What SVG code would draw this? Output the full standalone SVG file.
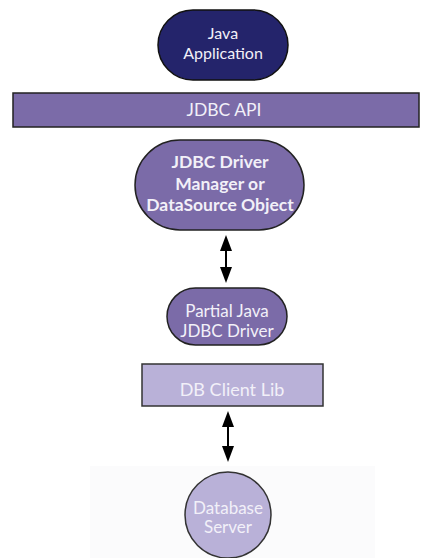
<svg xmlns="http://www.w3.org/2000/svg" width="426" height="558" viewBox="0 0 426 558">
<style>
.t{font-family:Lato,"Open Sans","Liberation Sans",sans-serif;fill:#f2f0f8;text-anchor:middle}
.shaft{stroke:#000;stroke-width:2;fill:none}
.head{fill:#000}
.dark{fill:#24246b;stroke:#111;stroke-width:1.5}
.mid{fill:#7b6ba8;stroke:#222;stroke-width:1.5}
.light{fill:#b9b1d8;stroke:#333;stroke-width:1.5}
</style>
<rect x="90" y="466" width="285" height="92" fill="#fbfbfc"/>
<g id="java-app">
<rect class="dark" x="158" y="10" width="130" height="70" rx="35"/>
<text class="t" x="223" y="39" font-size="16">Java</text>
<text class="t" x="223" y="59" font-size="16">Application</text>
</g>
<g id="jdbc-api">
<rect class="mid" x="13" y="93" width="406" height="34"/>
<text class="t" x="224" y="116" font-size="17.5">JDBC API</text>
</g>
<g id="driver-manager">
<rect class="mid" x="135" y="140" width="169" height="90" rx="45"/>
<text class="t" x="220" y="168" font-size="17.5" font-weight="bold">JDBC Driver</text>
<text class="t" x="220" y="190" font-size="17.5" font-weight="bold">Manager or</text>
<text class="t" x="220" y="211" font-size="17.5" font-weight="bold">DataSource Object</text>
</g>
<g id="partial-driver">
<rect class="mid" x="167" y="288" width="120" height="57" rx="28.5"/>
<text class="t" x="227" y="317" font-size="17">Partial Java</text>
<text class="t" x="227" y="337" font-size="17">JDBC Driver</text>
</g>
<g id="db-client-lib">
<rect class="light" x="142" y="364" width="181" height="42"/>
<text class="t" x="232" y="396" font-size="18">DB Client Lib</text>
</g>
<g id="database-server">
<circle class="light" cx="228" cy="515" r="43"/>
<text class="t" x="228" y="514" font-size="17">Database</text>
<text class="t" x="228" y="533" font-size="17">Server</text>
</g>
<g id="connectors">
<line class="shaft" x1="226" y1="248" x2="226" y2="270"/>
<polygon class="head" points="226,235 220,251 232,251"/>
<polygon class="head" points="226,283 220,267 232,267"/>
<line class="shaft" x1="228" y1="424" x2="228" y2="449"/>
<polygon class="head" points="228,411 222,427 234,427"/>
<polygon class="head" points="228,462 222,446 234,446"/>
</g>
</svg>
